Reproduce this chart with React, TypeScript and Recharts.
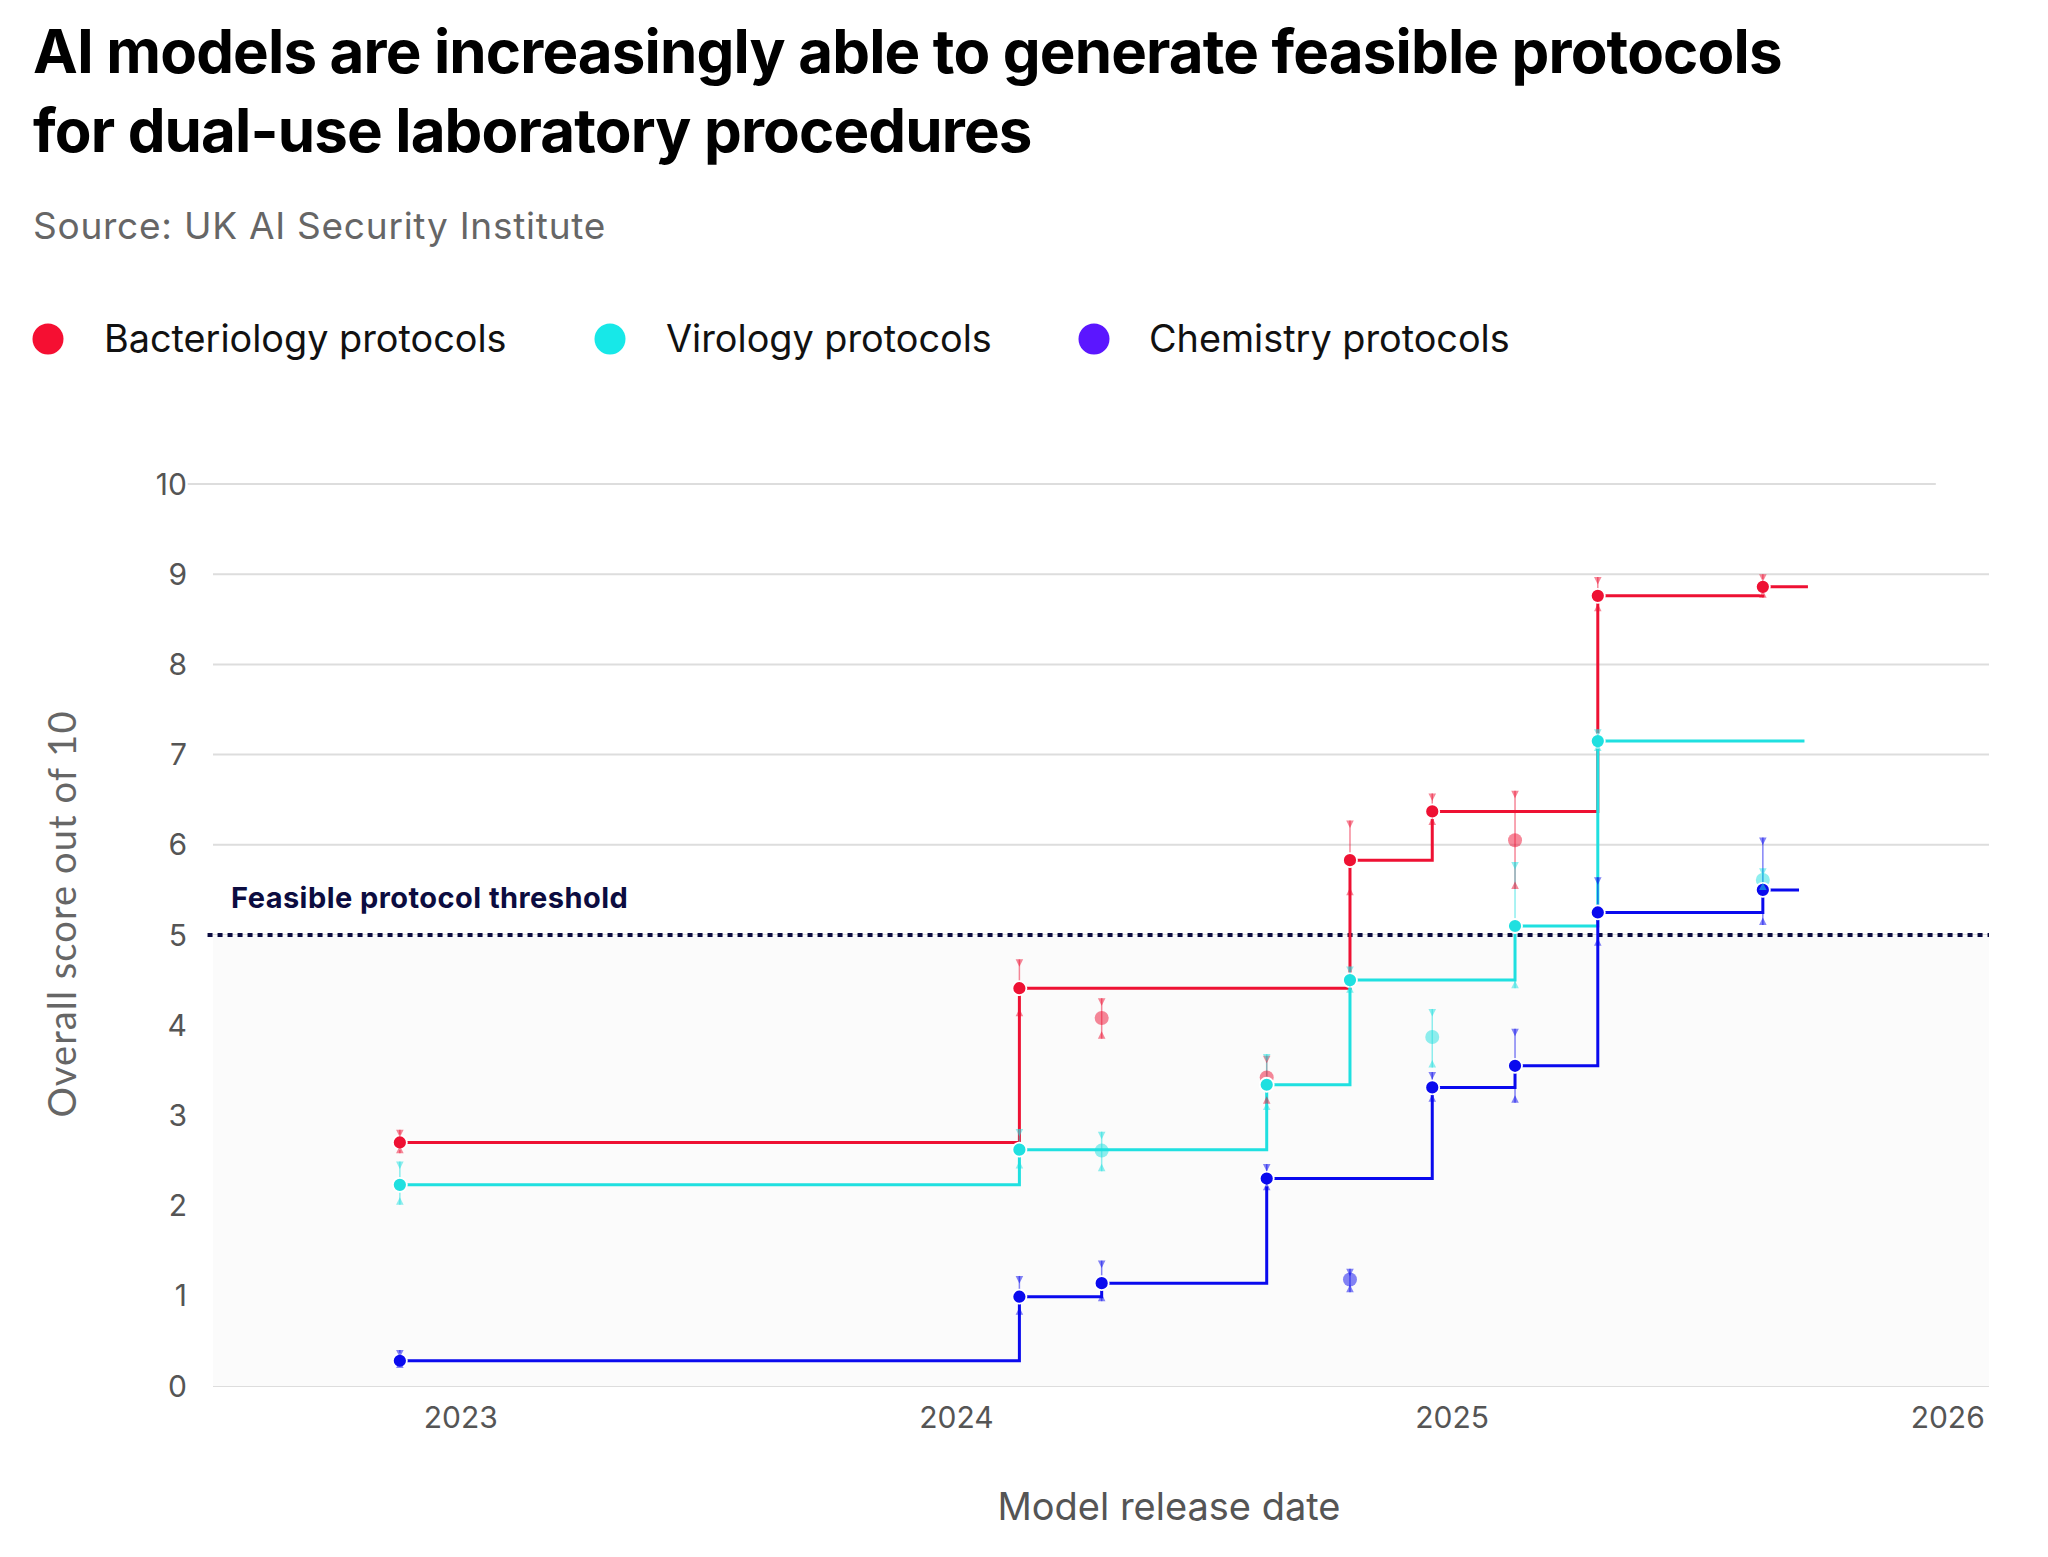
import React from 'react';
import {
  ComposedChart,
  Line,
  Scatter,
  XAxis,
  YAxis,
  CartesianGrid,
  ReferenceLine,
  ReferenceArea,
  ErrorBar,
} from 'recharts';

// ---- data ----
const releaseDates = [2022.877, 2024.127, 2024.293, 2024.626, 2024.794, 2024.96, 2025.127, 2025.294, 2025.627];

const bactScore = [2.7, 4.41, 4.08, 3.42, 5.83, 6.37, 6.05, 8.76, 8.86];
const bactHigh = [2.84, 4.73, 4.3, 3.66, 6.27, 6.57, 6.6, 8.97, 9.0];
const bactLow = [2.58, 4.1, 3.85, 3.13, 5.44, 6.22, 5.51, 8.59, 8.74];
const bactFrontier = [true, true, false, false, true, true, false, true, true];

const viroScore = [2.23, 2.62, 2.61, 3.34, 4.5, 3.87, 5.1, 7.15, 5.61];
const viroHigh = [2.49, 2.85, 2.82, 3.68, 4.65, 4.18, 5.81, 7.28, 5.74];
const viroLow = [2.01, 2.41, 2.38, 3.06, 4.36, 3.53, 4.41, 7.04, 5.5];
const viroFrontier = [true, true, false, true, true, false, true, true, false];

const chemScore = [0.28, 0.99, 1.14, 2.3, 1.18, 3.31, 3.55, 5.25, 5.5];
const chemHigh = [0.4, 1.22, 1.39, 2.46, 1.3, 3.48, 3.96, 5.64, 6.08];
const chemLow = [0.2, 0.79, 0.94, 2.17, 1.04, 3.15, 3.14, 4.88, 5.11];
const chemFrontier = [true, true, true, true, false, true, true, true, true];

const lineEnds = [2025.718, 2025.711, 2025.7];

const seriesNames = ['Bacteriology protocols', 'Virology protocols', 'Chemistry protocols'];
const yearTicks = [2023, 2024, 2025, 2026];
const scoreTicks = [0, 1, 2, 3, 4, 5, 6, 7, 8, 9, 10];
const gridValues = [0, 1, 2, 3, 4, 5, 6, 7, 8, 9];
const thresholdValue = 5;
const xDomain = [2022.5, 2026.0833];
const topGridSpan = [2022.449, 2025.976];

// ---- styles ----
const COLORS = {
  bact: '#ee1133',
  viro: '#1fe0e0',
  chem: '#0a0aee',
};
const LEGEND_COLORS = ['#f50f32', '#17e8e8', '#5b16ff'];
const FONT = 'Inter, "Noto Sans", sans-serif';

type Pt = { x: number; y: number; err: [number, number]; hi: number; lo: number };

function buildPoints(score: number[], high: number[], low: number[], frontier: boolean[], want: boolean): Pt[] {
  const out: Pt[] = [];
  releaseDates.forEach((x, i) => {
    if (Boolean(frontier[i]) === want) {
      out.push({ x, y: score[i], err: [score[i] - low[i], high[i] - score[i]], hi: high[i], lo: low[i] });
    }
  });
  return out;
}

function buildStep(front: Pt[], end: number) {
  const d = front.map((p) => ({ x: p.x, y: p.y }));
  d.push({ x: end, y: front[front.length - 1].y });
  return d;
}

const series = [
  { key: 'bact', color: COLORS.bact, score: bactScore, high: bactHigh, low: bactLow, frontier: bactFrontier, end: lineEnds[0] },
  { key: 'viro', color: COLORS.viro, score: viroScore, high: viroHigh, low: viroLow, frontier: viroFrontier, end: lineEnds[1] },
  { key: 'chem', color: COLORS.chem, score: chemScore, high: chemHigh, low: chemLow, frontier: chemFrontier, end: lineEnds[2] },
].map((s) => {
  const front = buildPoints(s.score, s.high, s.low, s.frontier, true);
  const faded = buildPoints(s.score, s.high, s.low, s.frontier, false);
  const all = [...front, ...faded];
  return {
    ...s,
    front,
    faded,
    step: buildStep(front, s.end),
    highs: all.map((p) => ({ x: p.x, y: p.hi })),
    lows: all.map((p) => ({ x: p.x, y: p.lo })),
  };
});

const solidDot = (color: string) => (p: any) => (
  <circle cx={p.cx} cy={p.cy} r={7} fill={color} stroke="#ffffff" strokeWidth={1.8} />
);
const fadedDot = (color: string) => (p: any) => (
  <circle cx={p.cx} cy={p.cy} r={7} fill={color} fillOpacity={0.5} />
);
const capDown = (color: string) => (p: any) => (
  <path d={`M${p.cx - 3.8},${p.cy} L${p.cx + 3.8},${p.cy} L${p.cx},${p.cy + 7.5} Z`} fill={color} fillOpacity={0.5} />
);
const capUp = (color: string) => (p: any) => (
  <path d={`M${p.cx - 3.8},${p.cy} L${p.cx + 3.8},${p.cy} L${p.cx},${p.cy - 7.5} Z`} fill={color} fillOpacity={0.5} />
);

export default function App() {
  return (
    <div style={{ position: 'absolute', left: 0, top: 0, width: 2048, height: 1557, background: '#ffffff', overflow: 'hidden' }}>
      <div style={{ position: 'absolute', left: 0, top: 0 }}>
        <ComposedChart
          width={2048}
          height={1557}
          margin={{ top: 484, right: 59, bottom: 111, left: 113 }}
        >
          <ReferenceArea y1={0} y2={thresholdValue} fill="#fbfbfb" fillOpacity={1} stroke="none" ifOverflow="visible" />
          <CartesianGrid vertical={false} horizontalValues={gridValues} stroke="#dddddd" strokeWidth={2} />
          <ReferenceLine
            segment={[
              { x: topGridSpan[0], y: 10 },
              { x: topGridSpan[1], y: 10 },
            ]}
            stroke="#dddddd"
            strokeWidth={2}
            ifOverflow="visible"
          />
          <XAxis
            type="number"
            dataKey="x"
            domain={xDomain}
            ticks={yearTicks}
            allowDataOverflow
            axisLine={false}
            tickLine={false}
            tickMargin={15}
            height={60}
            tick={{ fontSize: 30, fill: '#555555', fontFamily: FONT }}
          />
          <YAxis
            type="number"
            domain={[0, 10]}
            ticks={scoreTicks}
            allowDataOverflow
            axisLine={false}
            tickLine={false}
            tickMargin={20}
            width={100}
            tick={{ fontSize: 30, fill: '#555555', fontFamily: FONT }}
          />
          <ReferenceLine
            segment={[
              { x: 2022.489, y: thresholdValue },
              { x: xDomain[1], y: thresholdValue },
            ]}
            stroke="#0c0c40"
            strokeWidth={4}
            strokeDasharray="5 5"
            ifOverflow="visible"
          />

          {series.map((s) => (
            <Scatter key={`faded-${s.key}`} data={s.faded} dataKey="y" isAnimationActive={false} shape={fadedDot(s.color)}>
              <ErrorBar dataKey="err" direction="y" width={0} stroke={s.color} strokeWidth={1.5} strokeOpacity={0.5} />
            </Scatter>
          ))}

          {series.map((s) => (
            <Line
              key={`line-${s.key}`}
              data={s.step}
              dataKey="y"
              type="stepAfter"
              stroke={s.color}
              strokeWidth={3}
              dot={false}
              activeDot={false}
              isAnimationActive={false}
            />
          ))}

          {series.map((s) => (
            <Scatter key={`front-${s.key}`} data={s.front} dataKey="y" isAnimationActive={false} shape={solidDot(s.color)}>
              <ErrorBar dataKey="err" direction="y" width={0} stroke={s.color} strokeWidth={1.5} strokeOpacity={0.5} />
            </Scatter>
          ))}

          {series.map((s) => (
            <Scatter key={`hi-${s.key}`} data={s.highs} dataKey="y" isAnimationActive={false} shape={capDown(s.color)} />
          ))}
          {series.map((s) => (
            <Scatter key={`lo-${s.key}`} data={s.lows} dataKey="y" isAnimationActive={false} shape={capUp(s.color)} />
          ))}
        </ComposedChart>
      </div>

      <svg width={2048} height={1557} style={{ position: 'absolute', left: 0, top: 0, pointerEvents: 'none' }}>
        <text x={33} y={73} fontFamily={FONT} fontWeight={700} fontSize={60} letterSpacing={-0.85} fill="#000000">
          AI models are increasingly able to generate feasible protocols
        </text>
        <text x={33} y={152} fontFamily={FONT} fontWeight={700} fontSize={60} letterSpacing={-0.85} fill="#000000">
          for dual-use laboratory procedures
        </text>
        <text x={33} y={239} fontFamily={FONT} fontSize={37} letterSpacing={0.75} fill="#666666">
          Source: UK AI Security Institute
        </text>

        {[
          { cx: 48, tx: 104 },
          { cx: 610, tx: 666 },
          { cx: 1094, tx: 1149 },
        ].map((l, i) => (
          <g key={seriesNames[i]}>
            <circle cx={l.cx} cy={339} r={15.5} fill={LEGEND_COLORS[i]} />
            <text x={l.tx} y={352} fontFamily={FONT} fontSize={37.8} fill="#111111">
              {seriesNames[i]}
            </text>
          </g>
        ))}

        <text x={231} y={908} fontFamily={FONT} fontWeight={700} fontSize={29} letterSpacing={0.45} fill="#0c0c40">
          Feasible protocol threshold
        </text>

        <text
          x={61}
          y={914}
          transform="rotate(-90 61 914)"
          textAnchor="middle"
          dominantBaseline="central"
          fontFamily='Lato, "Noto Sans", sans-serif'
          fontSize={38}
          letterSpacing={1.1}
          fill="#666666"
        >
          Overall score out of 10
        </text>

        <text x={1169} y={1520} textAnchor="middle" fontFamily={FONT} fontSize={38} fill="#555555">
          Model release date
        </text>
      </svg>
    </div>
  );
}
